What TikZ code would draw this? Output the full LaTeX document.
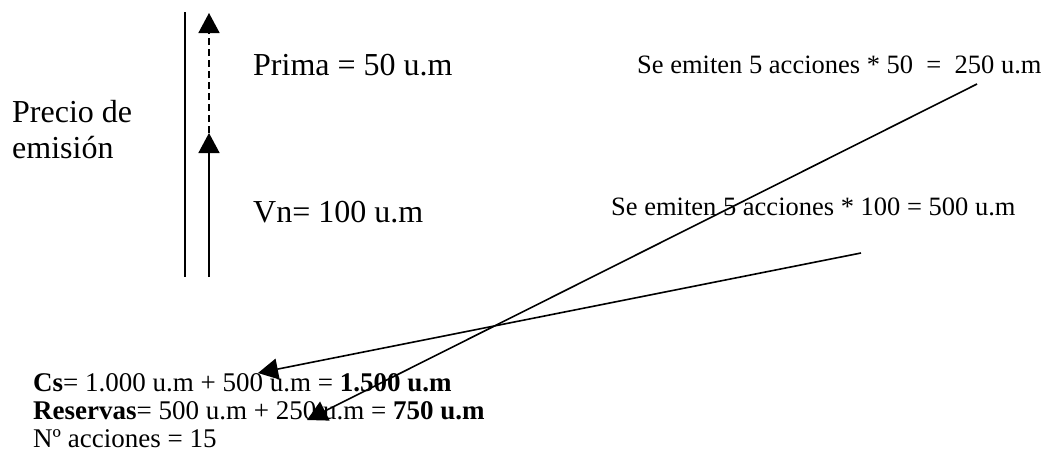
\documentclass[tikz,border=0pt]{standalone}
\usepackage{fontspec}
\setmainfont{Liberation Serif}
\usetikzlibrary{arrows.meta}
\begin{document}
\begin{tikzpicture}[x=1pt,y=-1pt,
  bigtxt/.style={anchor=base west,inner sep=0pt,font=\fontsize{32}{38}\selectfont},
  midtxt/.style={anchor=base west,inner sep=0pt,font=\fontsize{26.5}{28}\selectfont},
  bottxt/.style={anchor=base west,inner sep=0pt,font=\fontsize{27}{28}\selectfont},
  plain/.style={line width=1.7pt},
  arr/.style={line width=1.6pt,-{Triangle[length=20pt,width=21pt]}},
  dasharr/.style={arr,dash pattern=on 7pt off 4pt}
]
\useasboundingbox (0,0) rectangle (1046,455);
% texts
\node[bigtxt] (pd) at (12,122) {Precio de};
\node[bigtxt] (em) at (12,158) {emisión};
\node[bigtxt] (pr) at (253,75) {Prima = 50 u.m};
\node[bigtxt] (vn) at (253,222) {Vn= 100 u.m};
\node[midtxt] (s50) at (637,73) {Se emiten 5 acciones * 50\ \ =\ \ 250 u.m};
\node[midtxt] (s100) at (611,215) {Se emiten 5 acciones * 100 = 500 u.m};
\node[bottxt] (cs) at (33,391) {\textbf{Cs}= 1.000 u.m + 500 u.m = \textbf{1.500 u.m}};
\node[bottxt] (rs) at (33,419) {\textbf{Reservas}= 500 u.m + 250 u.m = \textbf{750 u.m}};
\node[bottxt] (na) at (33,447) {Nº acciones = 15};
% vertical lines
\coordinate (v1) at (185,12);
\coordinate (v2) at (185,277);
\coordinate (a0) at (209,277);
\coordinate (a1) at (209,133);
\coordinate (a2) at (209,13);
\draw[plain] (v1) -- (v2);
\draw[arr] (a0) -- (a1);
\draw[dasharr] (a1) -- (a2);
% slanted arrows
\coordinate (la) at (861,253);
\coordinate (ta) at (258,373);
\coordinate (lb) at (977,84);
\coordinate (tb) at (307,420);
\draw[arr] (la) -- (ta);
\draw[arr] (lb) -- (tb);
\end{tikzpicture}
\end{document}
